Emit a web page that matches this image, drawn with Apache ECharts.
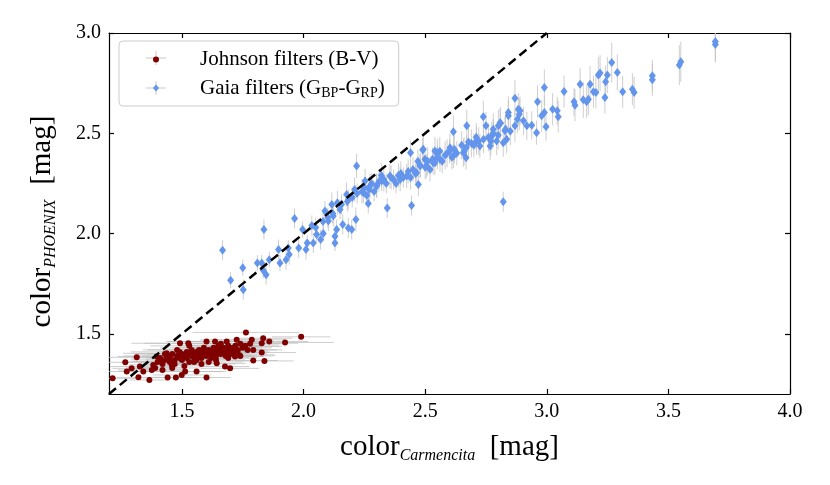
<!DOCTYPE html>
<html lang="en">
<head>
    <meta charset="utf-8">
    <title>color PHOENIX vs Carmencita</title>
    <script src="https://cdn.jsdelivr.net/npm/echarts@6/dist/echarts.min.js"></script>
    <style>
        html, body { margin: 0; padding: 0; background: #fff; }
        #chart { width: 830px; height: 485px; }
    </style>
</head>
<body>
<div id="chart"></div>
<script>
    // 数据: [x, y, 误差]
    var johnson = [
        [1.215,1.278,0.10],[1.267,1.358,0.12],[1.273,1.312,0.10],[1.293,1.328,0.08],[1.314,1.383,0.15],
        [1.321,1.283,0.09],[1.327,1.337,0.12],[1.341,1.312,0.10],[1.366,1.270,0.08],[1.376,1.320,0.14],
        [1.382,1.345,0.10],[1.396,1.387,0.16],[1.417,1.362,0.12],[1.437,1.403,0.18],[1.441,1.282,0.10],
        [1.458,1.345,0.14],[1.475,1.282,0.09],[1.492,1.453,0.20],[1.499,1.295,0.12],[1.513,1.312,0.15],
        [1.526,1.453,0.18],[1.560,1.312,0.12],[1.601,1.282,0.10],[1.601,1.462,0.16],[1.636,1.462,0.20],
        [1.643,1.353,0.12],[1.684,1.462,0.18],[1.677,1.337,0.10],[1.698,1.328,0.12],[1.725,1.470,0.15],
        [1.763,1.507,0.22],[1.787,1.470,0.14],[1.793,1.420,0.12],[1.793,1.367,0.10],[1.828,1.453,0.15],
        [1.834,1.478,0.12],[1.828,1.407,0.14],[1.839,1.365,0.12],[1.859,1.462,0.16],[1.924,1.457,0.20],
        [1.990,1.485,0.12],[1.735,1.395,0.15],[1.718,1.387,0.12],[1.752,1.437,0.16],
        [1.40,1.36,0.15],[1.41,1.38,0.12],[1.42,1.35,0.10],[1.43,1.37,0.14],[1.44,1.39,0.18],
        [1.45,1.36,0.12],[1.45,1.38,0.10],[1.46,1.40,0.16],[1.47,1.37,0.12],[1.47,1.35,0.10],
        [1.48,1.39,0.14],[1.49,1.38,0.12],[1.49,1.41,0.20],[1.50,1.37,0.12],[1.50,1.40,0.14],
        [1.51,1.39,0.10],[1.52,1.38,0.16],[1.52,1.41,0.12],[1.53,1.36,0.10],[1.53,1.40,0.14],
        [1.54,1.39,0.12],[1.54,1.42,0.18],[1.55,1.38,0.12],[1.55,1.40,0.10],[1.56,1.41,0.14],
        [1.56,1.37,0.12],[1.57,1.39,0.16],[1.57,1.42,0.12],[1.58,1.40,0.10],[1.58,1.38,0.14],
        [1.59,1.41,0.12],[1.59,1.43,0.18],[1.60,1.39,0.12],[1.60,1.41,0.10],[1.61,1.40,0.14],
        [1.61,1.42,0.12],[1.62,1.38,0.16],[1.62,1.41,0.12],[1.63,1.43,0.14],[1.63,1.40,0.10],
        [1.64,1.41,0.12],[1.64,1.39,0.15],[1.65,1.42,0.12],[1.65,1.44,0.16],[1.66,1.40,0.12],
        [1.66,1.42,0.10],[1.67,1.41,0.14],[1.67,1.43,0.12],[1.68,1.42,0.16],[1.68,1.39,0.12],
        [1.69,1.41,0.10],[1.69,1.44,0.14],[1.70,1.42,0.12],[1.70,1.40,0.15],[1.71,1.43,0.12],
        [1.72,1.41,0.14],[1.72,1.44,0.10],[1.73,1.42,0.12],[1.74,1.45,0.16],[1.75,1.43,0.12],
        [1.76,1.44,0.14],[1.77,1.42,0.12],[1.78,1.45,0.15],[1.46,1.33,0.12],[1.51,1.34,0.10],
        [1.48,1.42,0.14],[1.43,1.40,0.12],[1.58,1.35,0.14],[1.64,1.37,0.12],[1.55,1.36,0.10],
        [1.69,1.38,0.12],[1.74,1.39,0.14],[1.42,1.32,0.10],[1.39,1.33,0.12],[1.61,1.36,0.14],
        [1.53,1.44,0.16],[1.66,1.45,0.14]
    ];

    var gaia = [
        [1.667,1.917,0.05],[1.700,1.767,0.04],[1.750,1.830,0.04],[1.752,1.720,0.05],[1.837,2.020,0.05],
        [1.810,1.853,0.04],[1.828,1.853,0.04],[1.834,1.817,0.04],[1.846,1.795,0.05],[1.859,1.870,0.04],
        [1.897,1.920,0.05],[1.903,1.853,0.04],[1.928,1.870,0.05],[1.937,1.928,0.04],[1.941,1.895,0.05],
        [1.963,2.075,0.05],[1.980,1.928,0.05],[1.996,2.020,0.04],[2.010,1.920,0.05],[2.015,1.953,0.04],
        [2.034,2.040,0.05],[2.040,1.953,0.05],[2.054,1.995,0.04],[2.070,1.970,0.05],[2.081,2.000,0.04],
        [2.088,2.112,0.05],[2.102,2.062,0.05],[2.116,2.145,0.06],[2.122,2.087,0.05],[2.129,1.987,0.05],
        [2.129,1.953,0.04],[2.136,2.020,0.05],[2.139,2.153,0.06],[2.156,2.145,0.05],[2.161,2.045,0.05],
        [2.177,2.195,0.06],[2.184,2.170,0.05],[2.184,2.028,0.05],[2.198,2.020,0.05],[2.215,2.070,0.06],
        [2.218,2.337,0.06],[2.246,2.203,0.05],[2.253,2.262,0.06],[2.266,2.150,0.05],[2.273,2.237,0.06],
        [2.301,2.237,0.06],[2.321,2.262,0.05],[2.344,2.128,0.05],[2.355,2.287,0.06],[2.397,2.270,0.06],
        [2.424,2.287,0.06],[2.440,2.403,0.06],[2.444,2.140,0.05],[2.472,2.245,0.06],[2.465,2.303,0.06],
        [2.492,2.420,0.07],[2.506,2.337,0.06],[2.533,2.353,0.06],[2.550,2.403,0.07],
        [2.490,2.417,0.06],[2.479,2.337,0.06],[2.499,2.370,0.06],[2.540,2.412,0.07],[2.540,2.353,0.06],
        [2.561,2.370,0.06],[2.582,2.390,0.07],[2.602,2.428,0.07],[2.616,2.387,0.06],[2.616,2.507,0.08],
        [2.657,2.403,0.07],[2.668,2.378,0.06],[2.671,2.537,0.08],[2.678,2.457,0.07],[2.711,2.462,0.07],
        [2.725,2.437,0.06],[2.739,2.582,0.08],[2.750,2.537,0.07],[2.767,2.437,0.07],[2.774,2.487,0.07],
        [2.780,2.520,0.08],[2.794,2.462,0.07],[2.801,2.537,0.08],[2.808,2.553,0.07],[2.821,2.453,0.07],
        [2.821,2.158,0.05],[2.828,2.512,0.07],[2.835,2.470,0.07],[2.842,2.603,0.08],[2.842,2.587,0.08],
        [2.869,2.537,0.08],[2.879,2.570,0.07],[2.887,2.595,0.08],[2.904,2.562,0.07],[2.918,2.537,0.07],
        [2.869,2.675,0.09],[2.883,2.620,0.08],[2.890,2.612,0.07],[2.938,2.540,0.07],[2.958,2.503,0.06],
        [2.962,2.657,0.08],[2.979,2.587,0.08],[2.997,2.532,0.07],[2.990,2.728,0.09],[2.990,2.603,0.08],
        [3.024,2.620,0.08],[3.043,2.612,0.07],[3.047,2.583,0.08],[3.071,2.708,0.08],[3.112,2.657,0.07],
        [3.116,2.640,0.08],[3.137,2.745,0.08],[3.150,2.667,0.09],[3.164,2.657,0.08],[3.171,2.670,0.08],
        [3.178,2.745,0.09],[3.192,2.707,0.08],[3.202,2.703,0.08],[3.212,2.790,0.09],[3.219,2.800,0.09],
        [3.239,2.678,0.08],[3.242,2.757,0.08],[3.249,2.790,0.09],[3.267,2.853,0.10],[3.290,2.803,0.09],
        [3.312,2.707,0.08],[3.352,2.720,0.08],[3.359,2.703,0.08],[3.434,2.787,0.08],[3.434,2.767,0.08],
        [3.545,2.840,0.10],[3.551,2.857,0.10],[3.693,2.957,0.10],[3.693,2.943,0.09],
        [2.20,2.18,0.05],[2.22,2.20,0.05],[2.24,2.21,0.06],[2.25,2.23,0.05],[2.27,2.22,0.06],
        [2.28,2.25,0.05],[2.30,2.24,0.06],[2.31,2.26,0.05],[2.33,2.27,0.06],[2.34,2.25,0.05],
        [2.36,2.28,0.06],[2.37,2.27,0.05],[2.39,2.29,0.06],[2.40,2.30,0.06],[2.41,2.28,0.05],
        [2.43,2.31,0.06],[2.45,2.32,0.06],[2.46,2.30,0.05],[2.48,2.34,0.06],[2.50,2.33,0.06],
        [2.51,2.36,0.07],[2.53,2.37,0.06],[2.55,2.38,0.06],[2.57,2.36,0.06],[2.59,2.40,0.07],
        [2.60,2.41,0.06],[2.62,2.42,0.07],[2.63,2.40,0.06],[2.65,2.44,0.07],[2.67,2.43,0.06],
        [2.69,2.45,0.07],[2.70,2.44,0.06],[2.72,2.46,0.07],[2.74,2.47,0.07],[2.76,2.48,0.07],
        [2.78,2.50,0.07],[2.80,2.49,0.07],[2.83,2.52,0.08],[2.85,2.51,0.07],[2.12,2.10,0.05],
        [2.15,2.12,0.05],[2.18,2.16,0.05],[2.21,2.22,0.06],[2.05,2.03,0.05],[2.08,2.06,0.05],
        [2.10,2.08,0.05],[2.26,2.19,0.05],[2.29,2.21,0.05],[2.32,2.29,0.06],[2.38,2.25,0.05],
        [2.44,2.28,0.06],[2.47,2.36,0.06],[2.52,2.32,0.06],[2.56,2.41,0.07],[2.61,2.38,0.06],
        [2.66,2.41,0.07],[2.71,2.48,0.07],[2.77,2.46,0.07],[2.81,2.55,0.08]
    ];

    var oneToOne = [[1.2, 1.2], [3.0, 3.0]];
    var xTicks = [1.5, 2.0, 2.5, 3.0, 3.5, 4.0];
    var yTicks = [1.5, 2.0, 2.5, 3.0];

    window.onload = function () {
        var mCharts = echarts.init(document.getElementById('chart'));
        var serif = 'Liberation Serif';

        // 误差棒
        function errorBar(dir) {
            return function (params, api) {
                var x = api.value(0), y = api.value(1), e = api.value(2);
                var p1, p2;
                if (dir === 'x') {
                    p1 = api.coord([x - e, y]);
                    p2 = api.coord([x + e, y]);
                } else {
                    p1 = api.coord([x, y - e]);
                    p2 = api.coord([x, y + e]);
                }
                return {
                    type: 'line',
                    shape: { x1: p1[0], y1: p1[1], x2: p2[0], y2: p2[1] },
                    style: { stroke: 'rgba(190,190,190,0.75)', lineWidth: 1 }
                };
            };
        }

        var nameRich = {
            a: { fontFamily: serif, fontSize: 29, color: '#000', lineHeight: 30 },
            s: { fontFamily: serif, fontSize: 16, fontStyle: 'italic', color: '#000',
                 lineHeight: 14, padding: [18, 0, 0, 0] }
        };

        function tickAxis(pos, ticks, showLabel) {
            return {
                type: 'value',
                position: pos,
                min: 1.2,
                max: pos === 'top' || pos === 'bottom' ? 4.0 : 3.0,
                splitLine: { show: false },
                axisLine: { show: true, onZero: false, lineStyle: { color: '#000', width: 1.2 } },
                axisTick: { show: true, inside: true, length: 5, customValues: ticks,
                            lineStyle: { color: '#000', width: 1.2 } },
                axisLabel: { show: showLabel, customValues: ticks, margin: 8,
                             fontFamily: serif, fontSize: 20, color: '#000',
                             formatter: function (v) { return v.toFixed(1); } }
            };
        }

        var xBottom = tickAxis('bottom', xTicks, true);
        xBottom.name = '{a|color}{s|Carmencita}{a|  [mag]}';
        xBottom.nameLocation = 'middle';
        xBottom.nameGap = 38;
        xBottom.nameTextStyle = { rich: nameRich };

        var yLeft = tickAxis('left', yTicks, true);
        yLeft.name = '{a|color}{s|PHOENIX}{a|  [mag]}';
        yLeft.nameLocation = 'middle';
        yLeft.nameGap = 52;
        yLeft.nameTextStyle = { rich: nameRich, padding: [0, 16, 0, 0] };

        // 图例里的灰色误差十字
        var crossStyle = { stroke: '#c8c8c8', lineWidth: 1 };
        var legendCross = [58, 88].map(function (cy) {
            return [
                { type: 'line', shape: { x1: 146, y1: cy, x2: 166, y2: cy }, style: crossStyle, z: 0 },
                { type: 'line', shape: { x1: 156, y1: cy - 7, x2: 156, y2: cy + 7 }, style: crossStyle, z: 0 }
            ];
        });

        var option = {
            animation: false,
            grid: { left: 109, right: 40, top: 33, bottom: 91 },
            xAxis: [xBottom, tickAxis('top', xTicks, false)],
            yAxis: [yLeft, tickAxis('right', yTicks, false)],
            graphic: legendCross[0].concat(legendCross[1]),
            legend: {
                data: [
                    { name: 'Johnson filters (B-V)', icon: 'circle' },
                    { name: 'Gaia filters (G_BP-G_RP)', icon: 'diamond' }
                ],
                orient: 'vertical',
                left: 119,
                top: 41,
                padding: [8, 14, 6, 34],
                itemWidth: 6,
                itemHeight: 7,
                itemGap: 6,
                borderColor: '#cccccc',
                borderWidth: 1,
                borderRadius: 4,
                formatter: function (name) {
                    if (name.indexOf('Gaia') === 0) {
                        return 'Gaia filters (G{sub|BP}-G{sub|RP})';
                    }
                    return name;
                },
                textStyle: {
                    fontFamily: serif, fontSize: 21, color: '#000',
                    padding: [0, 0, 0, 36],
                    rich: {
                        sub: { fontFamily: serif, fontSize: 14, color: '#000',
                               lineHeight: 12, padding: [10, 0, 0, 0] }
                    }
                }
            },
            series: [
                {
                    type: 'custom',
                    renderItem: errorBar('x'),
                    data: johnson,
                    encode: { x: 0, y: 1 },
                    clip: true,
                    z: 1
                },
                {
                    name: 'Johnson filters (B-V)',
                    type: 'scatter',
                    data: johnson,
                    symbol: 'circle',
                    symbolSize: 6,
                    itemStyle: { color: '#800000', opacity: 1 },
                    clip: true,
                    z: 2
                },
                {
                    type: 'custom',
                    renderItem: errorBar('y'),
                    data: gaia,
                    encode: { x: 0, y: 1 },
                    clip: true,
                    z: 3
                },
                {
                    name: 'Gaia filters (G_BP-G_RP)',
                    type: 'scatter',
                    data: gaia,
                    symbol: 'diamond',
                    symbolSize: [7, 9],
                    itemStyle: { color: '#6495ed', opacity: 1 },
                    clip: true,
                    z: 4
                },
                {
                    type: 'line',
                    data: oneToOne,
                    symbol: 'none',
                    lineStyle: { color: '#000', width: 2.5, type: [9, 5] },
                    z: 5
                }
            ]
        };

        mCharts.setOption(option);
    };
</script>
</body>
</html>
